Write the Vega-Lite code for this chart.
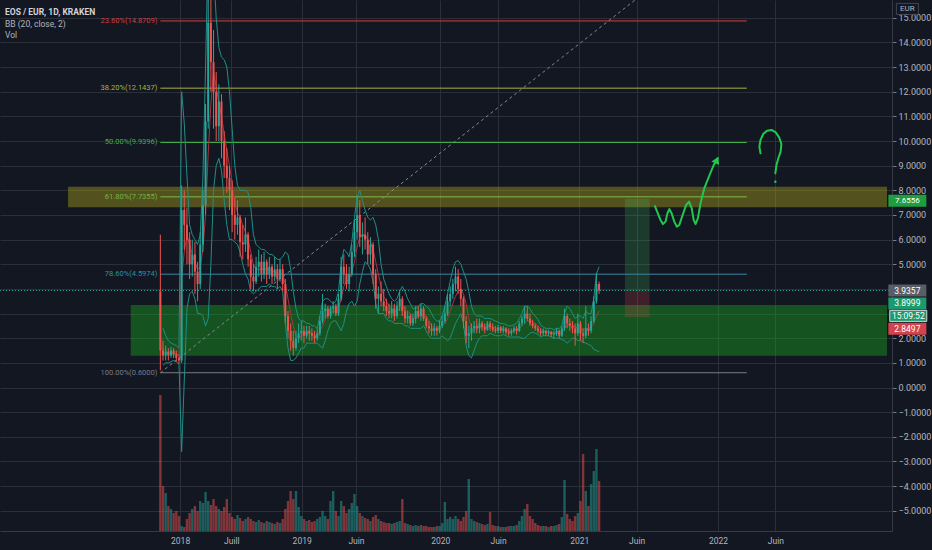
{
"$schema":"https://vega.github.io/schema/vega-lite/v6.json",
"width":892,"height":531,
"autosize":{"type":"none"},
"padding":{"left":0,"top":0,"right":40,"bottom":19},
"background":"#131722",
"config":{"view":{"stroke":null},"font":"Roboto"},
"title":{"text":"EOS / EUR, 1D, KRAKEN","subtitle":["BB (20, close, 2)","Vol"],"anchor":"start","frame":"group","orient":"top","offset":-39,"dx":5,"fontSize":8.5,"fontWeight":"bold","color":"#d1d4dc","font":"Roboto","subtitleFont":"Roboto","subtitleFontSize":8.5,"subtitleColor":"#b2b5be","subtitlePadding":3,"subtitleLineHeight":11},
"datasets":{
"k":[
{"t":-372,"o":3.9,"h":6.2,"l":0.7,"c":1.5,"v":136},
{"t":-365,"o":1.5,"h":1.9,"l":1.1,"c":1.3,"v":45,"u":2.4,"m":1.6,"b":0.9},
{"t":-358,"o":1.3,"h":1.7,"l":1.1,"c":1.45,"v":38,"u":2.1,"m":1.5,"b":1.0},
{"t":-351,"o":1.45,"h":1.6,"l":1.1,"c":1.3,"v":25,"u":1.9,"m":1.4,"b":1.0},
{"t":-344,"o":1.3,"h":1.65,"l":1.2,"c":1.5,"v":22,"u":1.8,"m":1.4,"b":1.05},
{"t":-337,"o":1.5,"h":1.6,"l":1.2,"c":1.35,"v":18,"u":1.75,"m":1.4,"b":1.1},
{"t":-330,"o":1.35,"h":1.5,"l":1.05,"c":1.2,"v":20,"u":1.7,"m":1.35,"b":1.05},
{"t":-323,"o":1.2,"h":1.35,"l":0.95,"c":1.1,"v":15,"u":1.6,"m":1.3,"b":0.95},
{"t":-316,"o":1.1,"h":8.2,"l":1.0,"c":7.2,"v":5,"u":12.0,"m":4.5,"b":-2.6},
{"t":-309,"o":7.2,"h":8.0,"l":5.6,"c":6.6,"v":4,"u":10.7,"m":5.5,"b":0.3},
{"t":-302,"o":6.6,"h":7.3,"l":5.0,"c":6.0,"v":12,"u":8.6,"m":6.2,"b":3.2},
{"t":-295,"o":6.0,"h":6.3,"l":4.4,"c":5.0,"v":18,"u":6.6,"m":5.8,"b":3.8},
{"t":-288,"o":5.0,"h":6.0,"l":4.5,"c":5.4,"v":22,"u":6.2,"m":5.4,"b":3.9},
{"t":-281,"o":5.4,"h":5.9,"l":3.8,"c":4.7,"v":25,"u":6.0,"m":5.1,"b":3.6},
{"t":-274,"o":4.7,"h":5.1,"l":3.5,"c":4.2,"v":20,"u":5.8,"m":4.8,"b":3.0},
{"t":-267,"o":4.2,"h":6.3,"l":4.0,"c":5.8,"v":30,"u":6.2,"m":4.9,"b":3.0},
{"t":-260,"o":5.8,"h":8.0,"l":5.5,"c":7.4,"v":28,"u":8.5,"m":5.6,"b":2.9},
{"t":-253,"o":7.4,"h":11.5,"l":7.0,"c":10.8,"v":39,"u":13.0,"m":7.0,"b":2.5},
{"t":-246,"o":10.8,"h":16.2,"l":10.5,"c":14.8,"v":30,"u":18.0,"m":9.5,"b":2.8},
{"t":-239,"o":14.8,"h":15.9,"l":12.0,"c":13.2,"v":26,"u":18.5,"m":11.5,"b":5.0},
{"t":-232,"o":13.2,"h":14.5,"l":10.5,"c":12.0,"v":32,"u":17.0,"m":12.8,"b":8.0},
{"t":-225,"o":12.0,"h":12.8,"l":10.0,"c":10.6,"v":25,"u":15.0,"m":12.2,"b":9.0},
{"t":-218,"o":10.6,"h":12.3,"l":10.0,"c":11.6,"v":22,"u":13.8,"m":11.6,"b":9.3},
{"t":-211,"o":11.6,"h":11.9,"l":9.3,"c":10.0,"v":20,"u":13.4,"m":11.0,"b":8.8},
{"t":-204,"o":10.0,"h":10.4,"l":8.5,"c":9.0,"v":24,"u":13.3,"m":10.3,"b":7.6},
{"t":-197,"o":9.0,"h":9.7,"l":7.9,"c":8.5,"v":32,"u":13.0,"m":9.6,"b":6.6},
{"t":-190,"o":8.5,"h":9.0,"l":7.2,"c":8.0,"v":18,"u":12.0,"m":9.0,"b":6.0},
{"t":-183,"o":8.0,"h":8.4,"l":6.3,"c":7.0,"v":14,"u":10.5,"m":8.3,"b":6.0},
{"t":-176,"o":7.0,"h":7.7,"l":6.0,"c":6.6,"v":12,"u":9.0,"m":7.6,"b":5.9},
{"t":-169,"o":6.6,"h":7.6,"l":6.2,"c":6.9,"v":16,"u":8.2,"m":7.1,"b":5.8},
{"t":-162,"o":6.9,"h":7.0,"l":5.3,"c":5.9,"v":13,"u":8.0,"m":6.9,"b":5.5},
{"t":-155,"o":5.9,"h":6.6,"l":5.2,"c":5.8,"v":10,"u":8.0,"m":6.6,"b":5.0},
{"t":-148,"o":5.8,"h":6.9,"l":5.5,"c":6.2,"v":12,"u":8.0,"m":6.3,"b":4.6},
{"t":-141,"o":6.2,"h":6.3,"l":4.9,"c":5.2,"v":14,"u":7.9,"m":6.0,"b":4.4},
{"t":-134,"o":5.2,"h":5.4,"l":4.0,"c":4.5,"v":12,"u":7.3,"m":5.5,"b":3.9},
{"t":-127,"o":4.5,"h":5.0,"l":3.9,"c":4.3,"v":10,"u":6.2,"m":5.0,"b":3.8},
{"t":-120,"o":4.3,"h":5.3,"l":4.2,"c":4.9,"v":9,"u":5.8,"m":4.8,"b":3.9},
{"t":-113,"o":4.9,"h":5.6,"l":4.5,"c":5.1,"v":11,"u":5.7,"m":4.8,"b":4.0},
{"t":-106,"o":5.1,"h":5.4,"l":4.3,"c":4.6,"v":9,"u":5.6,"m":4.8,"b":4.1},
{"t":-99,"o":4.6,"h":5.5,"l":4.4,"c":5.1,"v":8,"u":5.6,"m":4.8,"b":4.1},
{"t":-92,"o":5.1,"h":5.2,"l":4.2,"c":4.6,"v":10,"u":5.5,"m":4.8,"b":4.1},
{"t":-85,"o":4.6,"h":5.3,"l":4.4,"c":4.9,"v":9,"u":5.4,"m":4.8,"b":4.2},
{"t":-78,"o":4.9,"h":5.0,"l":4.2,"c":4.5,"v":8,"u":5.4,"m":4.7,"b":4.1},
{"t":-71,"o":4.5,"h":5.3,"l":4.3,"c":4.8,"v":7,"u":5.3,"m":4.7,"b":4.1},
{"t":-64,"o":4.8,"h":5.0,"l":4.0,"c":4.4,"v":9,"u":5.2,"m":4.6,"b":4.0},
{"t":-57,"o":4.4,"h":5.2,"l":4.3,"c":4.8,"v":8,"u":5.2,"m":4.6,"b":4.1},
{"t":-50,"o":4.8,"h":5.0,"l":3.9,"c":4.2,"v":12,"u":5.3,"m":4.6,"b":3.9},
{"t":-43,"o":4.2,"h":4.4,"l":2.6,"c":2.9,"v":22,"u":5.5,"m":4.2,"b":2.6},
{"t":-36,"o":2.9,"h":3.1,"l":2.0,"c":2.3,"v":30,"u":5.4,"m":3.6,"b":1.6},
{"t":-29,"o":2.3,"h":2.6,"l":1.5,"c":1.9,"v":40,"u":4.8,"m":3.0,"b":1.1},
{"t":-22,"o":1.9,"h":2.3,"l":1.3,"c":1.6,"v":32,"u":3.9,"m":2.5,"b":1.1},
{"t":-15,"o":1.6,"h":2.3,"l":1.5,"c":2.0,"v":40,"u":3.2,"m":2.1,"b":1.2},
{"t":-8,"o":2.0,"h":2.6,"l":1.8,"c":2.2,"v":24,"u":2.8,"m":2.0,"b":1.4},
{"t":-1,"o":2.2,"h":2.7,"l":1.9,"c":2.3,"v":15,"u":2.7,"m":2.1,"b":1.6},
{"t":6,"o":2.3,"h":2.5,"l":1.8,"c":2.1,"v":12,"u":2.7,"m":2.2,"b":1.6},
{"t":13,"o":2.1,"h":2.5,"l":2.0,"c":2.3,"v":10,"u":2.6,"m":2.2,"b":1.8},
{"t":20,"o":2.3,"h":2.5,"l":1.9,"c":2.2,"v":11,"u":2.6,"m":2.2,"b":1.8},
{"t":27,"o":2.2,"h":2.4,"l":1.9,"c":2.1,"v":9,"u":2.5,"m":2.2,"b":1.8},
{"t":34,"o":2.1,"h":2.3,"l":1.8,"c":2.0,"v":10,"u":2.5,"m":2.1,"b":1.8},
{"t":41,"o":2.0,"h":2.4,"l":1.9,"c":2.2,"v":12,"u":2.4,"m":2.1,"b":1.8},
{"t":48,"o":2.2,"h":2.9,"l":2.1,"c":2.7,"v":14,"u":2.9,"m":2.3,"b":1.7},
{"t":55,"o":2.7,"h":3.8,"l":2.6,"c":3.1,"v":20,"u":3.5,"m":2.5,"b":1.6},
{"t":62,"o":3.1,"h":3.4,"l":2.8,"c":3.2,"v":15,"u":3.6,"m":2.8,"b":1.9},
{"t":69,"o":3.2,"h":3.3,"l":2.8,"c":2.9,"v":12,"u":3.6,"m":3.0,"b":2.3},
{"t":76,"o":2.9,"h":3.3,"l":2.8,"c":3.2,"v":30,"u":3.5,"m":3.0,"b":2.6},
{"t":83,"o":3.2,"h":3.5,"l":3.0,"c":3.3,"v":40,"u":3.4,"m":3.1,"b":2.7},
{"t":90,"o":3.3,"h":3.4,"l":2.9,"c":3.0,"v":20,"u":3.5,"m":3.1,"b":2.7},
{"t":97,"o":3.0,"h":3.8,"l":2.9,"c":3.6,"v":15,"u":3.9,"m":3.2,"b":2.5},
{"t":104,"o":3.6,"h":5.3,"l":3.5,"c":4.9,"v":30,"u":5.0,"m":3.6,"b":2.3},
{"t":111,"o":4.9,"h":5.4,"l":4.2,"c":4.6,"v":25,"u":5.6,"m":4.1,"b":2.6},
{"t":118,"o":4.6,"h":5.0,"l":4.0,"c":4.2,"v":18,"u":5.5,"m":4.3,"b":3.1},
{"t":125,"o":4.2,"h":4.9,"l":3.9,"c":4.6,"v":22,"u":5.3,"m":4.4,"b":3.4},
{"t":132,"o":4.6,"h":5.8,"l":4.5,"c":5.5,"v":28,"u":5.9,"m":4.7,"b":3.5},
{"t":139,"o":5.5,"h":6.8,"l":5.3,"c":6.3,"v":37,"u":6.9,"m":5.1,"b":3.3},
{"t":146,"o":6.3,"h":7.8,"l":6.0,"c":7.0,"v":25,"u":7.7,"m":5.7,"b":3.5},
{"t":153,"o":7.0,"h":7.6,"l":5.7,"c":6.1,"v":18,"u":8.0,"m":6.1,"b":4.2},
{"t":160,"o":6.1,"h":6.7,"l":5.4,"c":6.2,"v":15,"u":7.6,"m":6.2,"b":4.7},
{"t":167,"o":6.2,"h":6.9,"l":5.6,"c":6.0,"v":13,"u":7.2,"m":6.2,"b":5.1},
{"t":174,"o":6.0,"h":6.3,"l":5.0,"c":5.4,"v":12,"u":6.9,"m":6.0,"b":5.0},
{"t":181,"o":5.4,"h":6.1,"l":5.0,"c":5.8,"v":10,"u":6.8,"m":5.9,"b":4.8},
{"t":188,"o":5.8,"h":5.9,"l":4.2,"c":4.6,"v":14,"u":6.9,"m":5.6,"b":4.3},
{"t":195,"o":4.6,"h":4.8,"l":3.2,"c":3.6,"v":16,"u":6.6,"m":5.1,"b":3.4},
{"t":202,"o":3.6,"h":4.1,"l":3.0,"c":3.8,"v":12,"u":6.0,"m":4.6,"b":3.0},
{"t":209,"o":3.8,"h":4.3,"l":3.3,"c":3.5,"v":10,"u":5.0,"m":4.1,"b":3.0},
{"t":216,"o":3.5,"h":4.0,"l":3.1,"c":3.3,"v":9,"u":4.4,"m":3.7,"b":3.0},
{"t":223,"o":3.3,"h":3.6,"l":2.9,"c":3.1,"v":8,"u":4.1,"m":3.5,"b":2.8},
{"t":230,"o":3.1,"h":3.4,"l":2.8,"c":3.0,"v":8,"u":3.8,"m":3.3,"b":2.7},
{"t":237,"o":3.0,"h":3.5,"l":2.8,"c":3.2,"v":7,"u":3.6,"m":3.2,"b":2.7},
{"t":244,"o":3.2,"h":3.4,"l":2.7,"c":2.9,"v":8,"u":3.5,"m":3.1,"b":2.6},
{"t":251,"o":2.9,"h":3.5,"l":2.8,"c":3.3,"v":9,"u":3.6,"m":3.1,"b":2.6},
{"t":258,"o":3.3,"h":3.9,"l":3.1,"c":3.6,"v":10,"u":3.9,"m":3.2,"b":2.6},
{"t":265,"o":3.6,"h":3.7,"l":2.9,"c":3.1,"v":32,"u":4.1,"m":3.3,"b":2.6},
{"t":272,"o":3.1,"h":3.3,"l":2.6,"c":2.8,"v":8,"u":3.9,"m":3.2,"b":2.5},
{"t":279,"o":2.8,"h":3.1,"l":2.6,"c":2.9,"v":7,"u":3.6,"m":3.1,"b":2.5},
{"t":286,"o":2.9,"h":3.0,"l":2.5,"c":2.6,"v":6,"u":3.4,"m":3.0,"b":2.4},
{"t":293,"o":2.6,"h":3.0,"l":2.5,"c":2.8,"v":5,"u":3.2,"m":2.8,"b":2.4},
{"t":300,"o":2.8,"h":3.3,"l":2.6,"c":3.1,"v":6,"u":3.2,"m":2.8,"b":2.4},
{"t":307,"o":3.1,"h":3.3,"l":2.8,"c":2.9,"v":5,"u":3.3,"m":2.9,"b":2.4},
{"t":314,"o":2.9,"h":3.4,"l":2.7,"c":3.2,"v":6,"u":3.4,"m":2.9,"b":2.4},
{"t":321,"o":3.2,"h":3.3,"l":2.7,"c":2.8,"v":5,"u":3.4,"m":3.0,"b":2.5},
{"t":328,"o":2.8,"h":2.9,"l":2.4,"c":2.5,"v":5,"u":3.3,"m":2.9,"b":2.3},
{"t":335,"o":2.5,"h":2.7,"l":2.2,"c":2.4,"v":4,"u":3.2,"m":2.7,"b":2.1},
{"t":342,"o":2.4,"h":2.6,"l":2.1,"c":2.3,"v":4,"u":3.0,"m":2.5,"b":2.0},
{"t":349,"o":2.3,"h":2.6,"l":2.1,"c":2.4,"v":4,"u":2.8,"m":2.4,"b":2.0},
{"t":356,"o":2.4,"h":2.5,"l":2.1,"c":2.3,"v":5,"u":2.7,"m":2.4,"b":2.0},
{"t":363,"o":2.3,"h":2.7,"l":2.2,"c":2.5,"v":5,"u":2.7,"m":2.4,"b":2.0},
{"t":370,"o":2.5,"h":2.9,"l":2.4,"c":2.7,"v":8,"u":2.9,"m":2.5,"b":2.1},
{"t":377,"o":2.7,"h":3.3,"l":2.6,"c":3.0,"v":29,"u":3.3,"m":2.6,"b":2.0},
{"t":384,"o":3.0,"h":3.8,"l":2.9,"c":3.5,"v":12,"u":3.8,"m":2.8,"b":1.9},
{"t":391,"o":3.5,"h":4.1,"l":3.3,"c":3.8,"v":14,"u":4.3,"m":3.1,"b":2.0},
{"t":398,"o":3.8,"h":4.4,"l":3.6,"c":4.2,"v":12,"u":4.8,"m":3.4,"b":2.3},
{"t":405,"o":4.2,"h":4.9,"l":3.9,"c":4.5,"v":15,"u":5.1,"m":3.7,"b":2.6},
{"t":412,"o":4.5,"h":4.8,"l":3.8,"c":4.0,"v":12,"u":5.15,"m":3.9,"b":2.8},
{"t":419,"o":4.0,"h":4.4,"l":3.3,"c":3.6,"v":10,"u":5.0,"m":4.0,"b":3.0},
{"t":426,"o":3.6,"h":3.7,"l":2.4,"c":2.7,"v":14,"u":4.7,"m":3.8,"b":2.6},
{"t":433,"o":2.7,"h":2.9,"l":1.8,"c":2.1,"v":20,"u":4.4,"m":3.4,"b":1.7},
{"t":440,"o":2.1,"h":2.5,"l":1.6,"c":2.2,"v":52,"u":3.9,"m":2.8,"b":1.3},
{"t":447,"o":2.2,"h":2.6,"l":1.9,"c":2.4,"v":12,"u":3.3,"m":2.4,"b":1.2},
{"t":454,"o":2.4,"h":2.7,"l":2.2,"c":2.5,"v":10,"u":3.0,"m":2.3,"b":1.5},
{"t":461,"o":2.5,"h":2.8,"l":2.2,"c":2.4,"v":9,"u":2.9,"m":2.4,"b":1.8},
{"t":468,"o":2.4,"h":2.8,"l":2.2,"c":2.6,"v":8,"u":2.9,"m":2.45,"b":2.0},
{"t":475,"o":2.6,"h":2.7,"l":2.3,"c":2.45,"v":7,"u":2.9,"m":2.5,"b":2.1},
{"t":482,"o":2.45,"h":2.6,"l":2.2,"c":2.35,"v":6,"u":2.8,"m":2.45,"b":2.1},
{"t":489,"o":2.35,"h":2.7,"l":2.3,"c":2.6,"v":7,"u":2.8,"m":2.45,"b":2.1},
{"t":496,"o":2.6,"h":2.7,"l":2.3,"c":2.45,"v":19,"u":2.8,"m":2.5,"b":2.2},
{"t":503,"o":2.45,"h":2.6,"l":2.25,"c":2.35,"v":6,"u":2.75,"m":2.45,"b":2.15},
{"t":510,"o":2.35,"h":2.5,"l":2.2,"c":2.3,"v":5,"u":2.7,"m":2.4,"b":2.1},
{"t":517,"o":2.3,"h":2.55,"l":2.2,"c":2.45,"v":5,"u":2.65,"m":2.4,"b":2.1},
{"t":524,"o":2.45,"h":2.5,"l":2.2,"c":2.3,"v":4,"u":2.6,"m":2.35,"b":2.1},
{"t":531,"o":2.3,"h":2.5,"l":2.2,"c":2.4,"v":4,"u":2.6,"m":2.35,"b":2.15},
{"t":538,"o":2.4,"h":2.45,"l":2.15,"c":2.25,"v":4,"u":2.55,"m":2.33,"b":2.1},
{"t":545,"o":2.25,"h":2.4,"l":2.1,"c":2.2,"v":5,"u":2.5,"m":2.3,"b":2.05},
{"t":552,"o":2.2,"h":2.4,"l":2.1,"c":2.3,"v":5,"u":2.5,"m":2.27,"b":2.05},
{"t":559,"o":2.3,"h":2.5,"l":2.2,"c":2.4,"v":5,"u":2.55,"m":2.3,"b":2.05},
{"t":566,"o":2.4,"h":2.5,"l":2.15,"c":2.3,"v":6,"u":2.6,"m":2.32,"b":2.05},
{"t":573,"o":2.3,"h":2.7,"l":2.25,"c":2.6,"v":10,"u":2.8,"m":2.4,"b":2.05},
{"t":580,"o":2.6,"h":2.9,"l":2.5,"c":2.8,"v":15,"u":3.0,"m":2.5,"b":2.0},
{"t":587,"o":2.8,"h":3.3,"l":2.6,"c":3.0,"v":22,"u":3.3,"m":2.6,"b":2.0},
{"t":594,"o":3.0,"h":3.3,"l":2.7,"c":2.8,"v":27,"u":3.3,"m":2.7,"b":2.1},
{"t":601,"o":2.8,"h":3.0,"l":2.5,"c":2.6,"v":15,"u":3.2,"m":2.7,"b":2.2},
{"t":608,"o":2.6,"h":2.75,"l":2.4,"c":2.5,"v":12,"u":3.0,"m":2.65,"b":2.25},
{"t":615,"o":2.5,"h":2.6,"l":2.3,"c":2.4,"v":8,"u":2.9,"m":2.6,"b":2.2},
{"t":622,"o":2.4,"h":2.5,"l":2.2,"c":2.3,"v":6,"u":2.75,"m":2.5,"b":2.15},
{"t":629,"o":2.3,"h":2.4,"l":2.1,"c":2.2,"v":5,"u":2.55,"m":2.4,"b":2.05},
{"t":636,"o":2.2,"h":2.4,"l":2.1,"c":2.3,"v":5,"u":2.45,"m":2.3,"b":2.1},
{"t":643,"o":2.3,"h":2.35,"l":2.1,"c":2.2,"v":5,"u":2.4,"m":2.25,"b":2.1},
{"t":650,"o":2.2,"h":2.35,"l":2.1,"c":2.25,"v":4,"u":2.4,"m":2.25,"b":2.1},
{"t":657,"o":2.25,"h":2.3,"l":2.05,"c":2.15,"v":5,"u":2.4,"m":2.22,"b":2.05},
{"t":664,"o":2.15,"h":2.3,"l":2.0,"c":2.2,"v":5,"u":2.35,"m":2.2,"b":2.0},
{"t":671,"o":2.2,"h":2.4,"l":2.1,"c":2.3,"v":6,"u":2.4,"m":2.2,"b":2.0},
{"t":678,"o":2.3,"h":2.35,"l":2.0,"c":2.1,"v":7,"u":2.4,"m":2.2,"b":2.0},
{"t":685,"o":2.1,"h":2.5,"l":2.05,"c":2.4,"v":14,"u":2.5,"m":2.22,"b":1.95},
{"t":692,"o":2.4,"h":3.2,"l":2.3,"c":2.9,"v":51,"u":3.0,"m":2.4,"b":1.9},
{"t":699,"o":2.9,"h":3.0,"l":2.4,"c":2.6,"v":17,"u":3.3,"m":2.5,"b":1.8},
{"t":706,"o":2.6,"h":2.8,"l":2.3,"c":2.5,"v":12,"u":3.2,"m":2.6,"b":1.9},
{"t":713,"o":2.5,"h":2.7,"l":2.2,"c":2.4,"v":10,"u":3.0,"m":2.55,"b":2.0},
{"t":720,"o":2.4,"h":2.6,"l":1.7,"c":2.2,"v":15,"u":2.8,"m":2.45,"b":2.0},
{"t":727,"o":2.2,"h":3.0,"l":2.1,"c":2.6,"v":18,"u":2.9,"m":2.4,"b":1.9},
{"t":734,"o":2.6,"h":2.7,"l":1.9,"c":2.2,"v":30,"u":2.9,"m":2.4,"b":1.9},
{"t":741,"o":2.2,"h":2.4,"l":1.8,"c":2.1,"v":77,"u":2.8,"m":2.35,"b":1.85},
{"t":748,"o":2.1,"h":3.3,"l":2.0,"c":2.4,"v":40,"u":3.1,"m":2.4,"b":1.8},
{"t":755,"o":2.4,"h":2.6,"l":2.1,"c":2.3,"v":25,"u":3.0,"m":2.4,"b":1.75},
{"t":762,"o":2.3,"h":2.9,"l":2.2,"c":2.7,"v":47,"u":3.0,"m":2.45,"b":1.7},
{"t":769,"o":2.7,"h":3.7,"l":2.6,"c":3.5,"v":60,"u":3.6,"m":2.6,"b":1.55},
{"t":776,"o":3.5,"h":4.65,"l":3.4,"c":4.2,"v":82,"u":4.6,"m":2.9,"b":1.5},
{"t":783,"o":4.2,"h":4.3,"l":3.8,"c":3.94,"v":50,"u":4.9,"m":3.1,"b":1.45}
],
"fib":[
{"f":"0.236","p":14.8709,"s":"23.60%(14.8709)"},
{"f":"0.382","p":12.1437,"s":"38.20%(12.1437)"},
{"f":"0.5","p":9.9396,"s":"50.00%(9.9396)"},
{"f":"0.618","p":7.7355,"s":"61.80%(7.7355)"},
{"f":"0.786","p":4.5974,"s":"78.60%(4.5974)"},
{"f":"1","p":0.6,"s":"100.00%(0.6000)"}
],
"zones":[
{"z":"res","lo":7.31,"hi":8.14,"t0":-615},
{"z":"sup","lo":1.29,"hi":3.35,"t0":-450}
],
"pos":[
{"p":"target","lo":3.8999,"hi":7.6556},
{"p":"stop","lo":2.8497,"hi":3.8999}
],
"trend":[{"t":-372,"v":0.6},{"t":1172,"v":19.2792}],
"draw":[
{"s":"w","k":1,"t":930,"v":7.36},{"s":"w","k":2,"t":937,"v":7.09},{"s":"w","k":3,"t":944,"v":6.82},{"s":"w","k":4,"t":951,"v":6.63},{"s":"w","k":5,"t":958,"v":6.73},{"s":"w","k":6,"t":963,"v":7.07},{"s":"w","k":7,"t":968,"v":7.24},{"s":"w","k":8,"t":974,"v":7.07},{"s":"w","k":9,"t":981,"v":6.73},{"s":"w","k":10,"t":988,"v":6.52},{"s":"w","k":11,"t":994,"v":6.59},{"s":"w","k":12,"t":1003,"v":7.0},{"s":"w","k":13,"t":1012,"v":7.4},{"s":"w","k":14,"t":1020,"v":7.54},{"s":"w","k":15,"t":1027,"v":7.27},{"s":"w","k":16,"t":1032,"v":6.8},{"s":"w","k":17,"t":1037,"v":6.63},{"s":"w","k":18,"t":1043,"v":6.86},{"s":"w","k":19,"t":1050,"v":7.47},{"s":"w","k":20,"t":1060,"v":8.08},{"s":"w","k":21,"t":1072,"v":8.55},{"s":"w","k":22,"t":1085,"v":9.03},{"s":"w","k":23,"t":1095,"v":9.3},
{"s":"q","k":1,"t":1208,"v":9.5},{"s":"q","k":2,"t":1205,"v":9.77},{"s":"q","k":3,"t":1208,"v":10.04},{"s":"q","k":4,"t":1215,"v":10.28},{"s":"q","k":5,"t":1225,"v":10.42},{"s":"q","k":6,"t":1237,"v":10.45},{"s":"q","k":7,"t":1248,"v":10.35},{"s":"q","k":8,"t":1257,"v":10.15},{"s":"q","k":9,"t":1263,"v":9.88},{"s":"q","k":10,"t":1261,"v":9.57},{"s":"q","k":11,"t":1255,"v":9.3},{"s":"q","k":12,"t":1250,"v":9.03},{"s":"q","k":13,"t":1247,"v":8.69}
]
},
"layer":[
{"data":{"name":"k"},"mark":{"type":"bar","width":2.4,"opacity":0.5},
 "encoding":{
  "x":{"field":"t","type":"quantitative","scale":{"domain":[-781,1541],"nice":false,"zero":false}},
  "y":{"field":"v","type":"quantitative","scale":{"domain":[0,531],"nice":false,"zero":true},"axis":null},
  "color":{"condition":{"test":"datum.c >= datum.o","value":"#26a69a"},"value":"#ef5350"}}},
{"layer":[
 {"data":{"name":"zones"},"mark":{"type":"rect"},
  "encoding":{
   "x":{"field":"t0","type":"quantitative","scale":{"domain":[-781,1541],"nice":false,"zero":false},
     "axis":{"values":[-320,-185,0,143,365,517,731,882,1096,1247],"tickCount":40,"labelExpr":"datum.value==-320?'2018':datum.value==-185?'Juill':datum.value==0?'2019':datum.value==365?'2020':datum.value==731?'2021':datum.value==1096?'2022':'Juin'","grid":true,"gridColor":"#2b2f3a","domainColor":"#363a45","ticks":false,"labelColor":"#b2b5be","labelFontSize":8.5,"labelPadding":5,"labelOverlap":false,"labelFlush":false,"title":null}},
   "x2":{"datum":1541},
   "y":{"field":"lo","type":"quantitative","scale":{"domain":[-5.82,15.72],"nice":false,"zero":false},
     "axis":{"orient":"right","values":[-5,-4,-3,-2,-1,0,1,2,3,4,5,6,7,8,9,10,11,12,13,14,15],"tickCount":40,"format":".4f","labelExpr":"datum.value==3||datum.value==4?'':datum.label","labelOverlap":false,"grid":true,"gridColor":"#2b2f3a","domainColor":"#363a45","tickColor":"#787b86","tickSize":4,"labelColor":"#b2b5be","labelFontSize":9,"labelPadding":2,"title":null}},
   "y2":{"field":"hi"},
   "color":{"field":"z","type":"nominal","scale":{"domain":["res","sup"],"range":["#b5ac19","#19b81f"]},"legend":null},
   "opacity":{"field":"z","type":"nominal","scale":{"domain":["res","sup"],"range":[0.4,0.38]},"legend":null}}},
 {"data":{"name":"pos"},"mark":{"type":"rect","opacity":0.2},
  "encoding":{
   "x":{"datum":851,"type":"quantitative"},"x2":{"datum":916},
   "y":{"field":"lo","type":"quantitative"},"y2":{"field":"hi"},
   "color":{"field":"p","type":"nominal","scale":{"domain":["target","stop"],"range":["#3fcf5a","#e5484d"]},"legend":null}}},
 {"data":{"name":"fib"},"mark":{"type":"rule","strokeWidth":1},
  "encoding":{
   "x":{"datum":-372,"type":"quantitative"},"x2":{"datum":1172},
   "y":{"field":"p","type":"quantitative"},
   "color":{"field":"f","type":"nominal","scale":{"domain":["0.236","0.382","0.5","0.618","0.786","1"],"range":["#d63c3c","#a7b43b","#43ad4a","#7cbd4a","#3a86a6","#787b86"]},"legend":null}}},
 {"data":{"name":"fib"},"mark":{"type":"text","align":"right","baseline":"middle","dx":-3,"fontSize":7.5},
  "encoding":{
   "x":{"datum":-372,"type":"quantitative"},
   "y":{"field":"p","type":"quantitative"},
   "text":{"field":"s"},
   "color":{"field":"f","type":"nominal","scale":{"domain":["0.236","0.382","0.5","0.618","0.786","1"],"range":["#d63c3c","#a7b43b","#43ad4a","#6fb548","#2f8fa6","#787b86"]},"legend":null}}},
 {"data":{"name":"trend"},"mark":{"type":"line","strokeDash":[3,3],"color":"#868993","strokeWidth":1,"clip":true},
  "encoding":{"x":{"field":"t","type":"quantitative"},"y":{"field":"v","type":"quantitative"}}},
 {"data":{"values":[{"p":3.9357}]},"mark":{"type":"rule","strokeDash":[1,2],"color":"#26a69a","strokeWidth":1},
  "encoding":{"y":{"field":"p","type":"quantitative"}}},
 {"data":{"name":"k"},"mark":{"type":"line","color":"#1f8f86","strokeWidth":1,"clip":true},
  "encoding":{"x":{"field":"t","type":"quantitative"},"y":{"field":"u","type":"quantitative"}}},
 {"data":{"name":"k"},"mark":{"type":"line","color":"#1f8f86","strokeWidth":1,"clip":true},
  "encoding":{"x":{"field":"t","type":"quantitative"},"y":{"field":"b","type":"quantitative"}}},
 {"data":{"name":"k"},"mark":{"type":"line","color":"#a8343f","strokeWidth":1,"clip":true},
  "encoding":{"x":{"field":"t","type":"quantitative"},"y":{"field":"m","type":"quantitative"}}},
 {"data":{"name":"k"},"mark":{"type":"rule","strokeWidth":1,"clip":true},
  "encoding":{"x":{"field":"t","type":"quantitative"},"y":{"field":"l","type":"quantitative"},"y2":{"field":"h"},
   "color":{"condition":{"test":"datum.c >= datum.o","value":"#26a69a"},"value":"#ef5350"}}},
 {"data":{"name":"k"},"mark":{"type":"bar","width":2,"clip":true},
  "encoding":{"x":{"field":"t","type":"quantitative"},"y":{"field":"o","type":"quantitative"},"y2":{"field":"c"},
   "color":{"condition":{"test":"datum.c >= datum.o","value":"#26a69a"},"value":"#ef5350"}}},
 {"data":{"name":"draw"},"mark":{"type":"line","color":"#1fc94e","strokeWidth":2,"strokeCap":"round","strokeJoin":"round"},
  "encoding":{"x":{"field":"t","type":"quantitative"},"y":{"field":"v","type":"quantitative"},"detail":{"field":"s"},"order":{"field":"k"}}},
 {"data":{"values":[{"t":1093,"v":9.23}]},"mark":{"type":"point","shape":"triangle-up","angle":26,"size":70,"filled":true,"color":"#1fc94e","opacity":1},
  "encoding":{"x":{"field":"t","type":"quantitative"},"y":{"field":"v","type":"quantitative"}}},
 {"data":{"values":[{"t":1247,"v":8.35}]},"mark":{"type":"point","size":6,"filled":true,"color":"#1fc94e","opacity":1},
  "encoding":{"x":{"field":"t","type":"quantitative"},"y":{"field":"v","type":"quantitative"}}},
 {"data":{"values":[{"s":"7.6556","p":7.6556}]},
  "encoding":{"x":{"datum":1594.6,"type":"quantitative"},"y":{"field":"p","type":"quantitative"}},
  "layer":[{"mark":{"type":"tick","orient":"horizontal","size":38,"thickness":12,"color":"#1f9e3f","opacity":1,"yOffset":2}},
   {"mark":{"type":"text","color":"#ffffff","fontSize":8,"yOffset":2.5},"encoding":{"text":{"field":"s"}}}]},
 {"data":{"values":[{"s":"3.9357","p":3.9357}]},
  "encoding":{"x":{"datum":1594.6,"type":"quantitative"},"y":{"field":"p","type":"quantitative"}},
  "layer":[{"mark":{"type":"tick","orient":"horizontal","size":38,"thickness":12,"color":"#5a5d68","opacity":1}},
   {"mark":{"type":"text","color":"#ffffff","fontSize":8.5},"encoding":{"text":{"field":"s"}}}]},
 {"data":{"values":[{"s":"3.8999","p":3.8999}]},
  "encoding":{"x":{"datum":1594.6,"type":"quantitative"},"y":{"field":"p","type":"quantitative"}},
  "layer":[{"mark":{"type":"tick","orient":"horizontal","size":38,"thickness":12,"color":"#1d9a6c","opacity":1,"yOffset":12}},
   {"mark":{"type":"text","color":"#ffffff","fontSize":8.5,"yOffset":12},"encoding":{"text":{"field":"s"}}}]},
 {"data":{"values":[{"s":"15:09:52","p":3.8999}]},
  "encoding":{"x":{"datum":1597,"type":"quantitative"},"y":{"field":"p","type":"quantitative"}},
  "layer":[{"mark":{"type":"tick","orient":"horizontal","size":37,"thickness":11,"color":"#1d9a6c","stroke":"#d1d4dc","strokeWidth":1,"opacity":1,"yOffset":24.5}},
   {"mark":{"type":"text","color":"#ffffff","fontSize":8.5,"yOffset":24.5},"encoding":{"text":{"field":"s"}}}]},
 {"data":{"values":[{"s":"2.8497","p":2.8497}]},
  "encoding":{"x":{"datum":1594.6,"type":"quantitative"},"y":{"field":"p","type":"quantitative"}},
  "layer":[{"mark":{"type":"tick","orient":"horizontal","size":38,"thickness":12,"color":"#d3434e","opacity":1,"yOffset":11.5}},
   {"mark":{"type":"text","color":"#ffffff","fontSize":8.5,"yOffset":11.5},"encoding":{"text":{"field":"s"}}}]},
 {"data":{"values":[{"s":"EUR","p":15.36}]},
  "encoding":{"x":{"datum":1594.6,"type":"quantitative"},"y":{"field":"p","type":"quantitative"}},
  "layer":[{"mark":{"type":"tick","orient":"horizontal","size":22,"thickness":11,"filled":false,"color":"#434651","opacity":1}},
   {"mark":{"type":"text","color":"#b2b5be","fontSize":8},"encoding":{"text":{"field":"s"}}}]}
 ],
 "resolve":{"scale":{"color":"independent","opacity":"independent"}}}
],
"resolve":{"scale":{"y":"independent"}}
}
